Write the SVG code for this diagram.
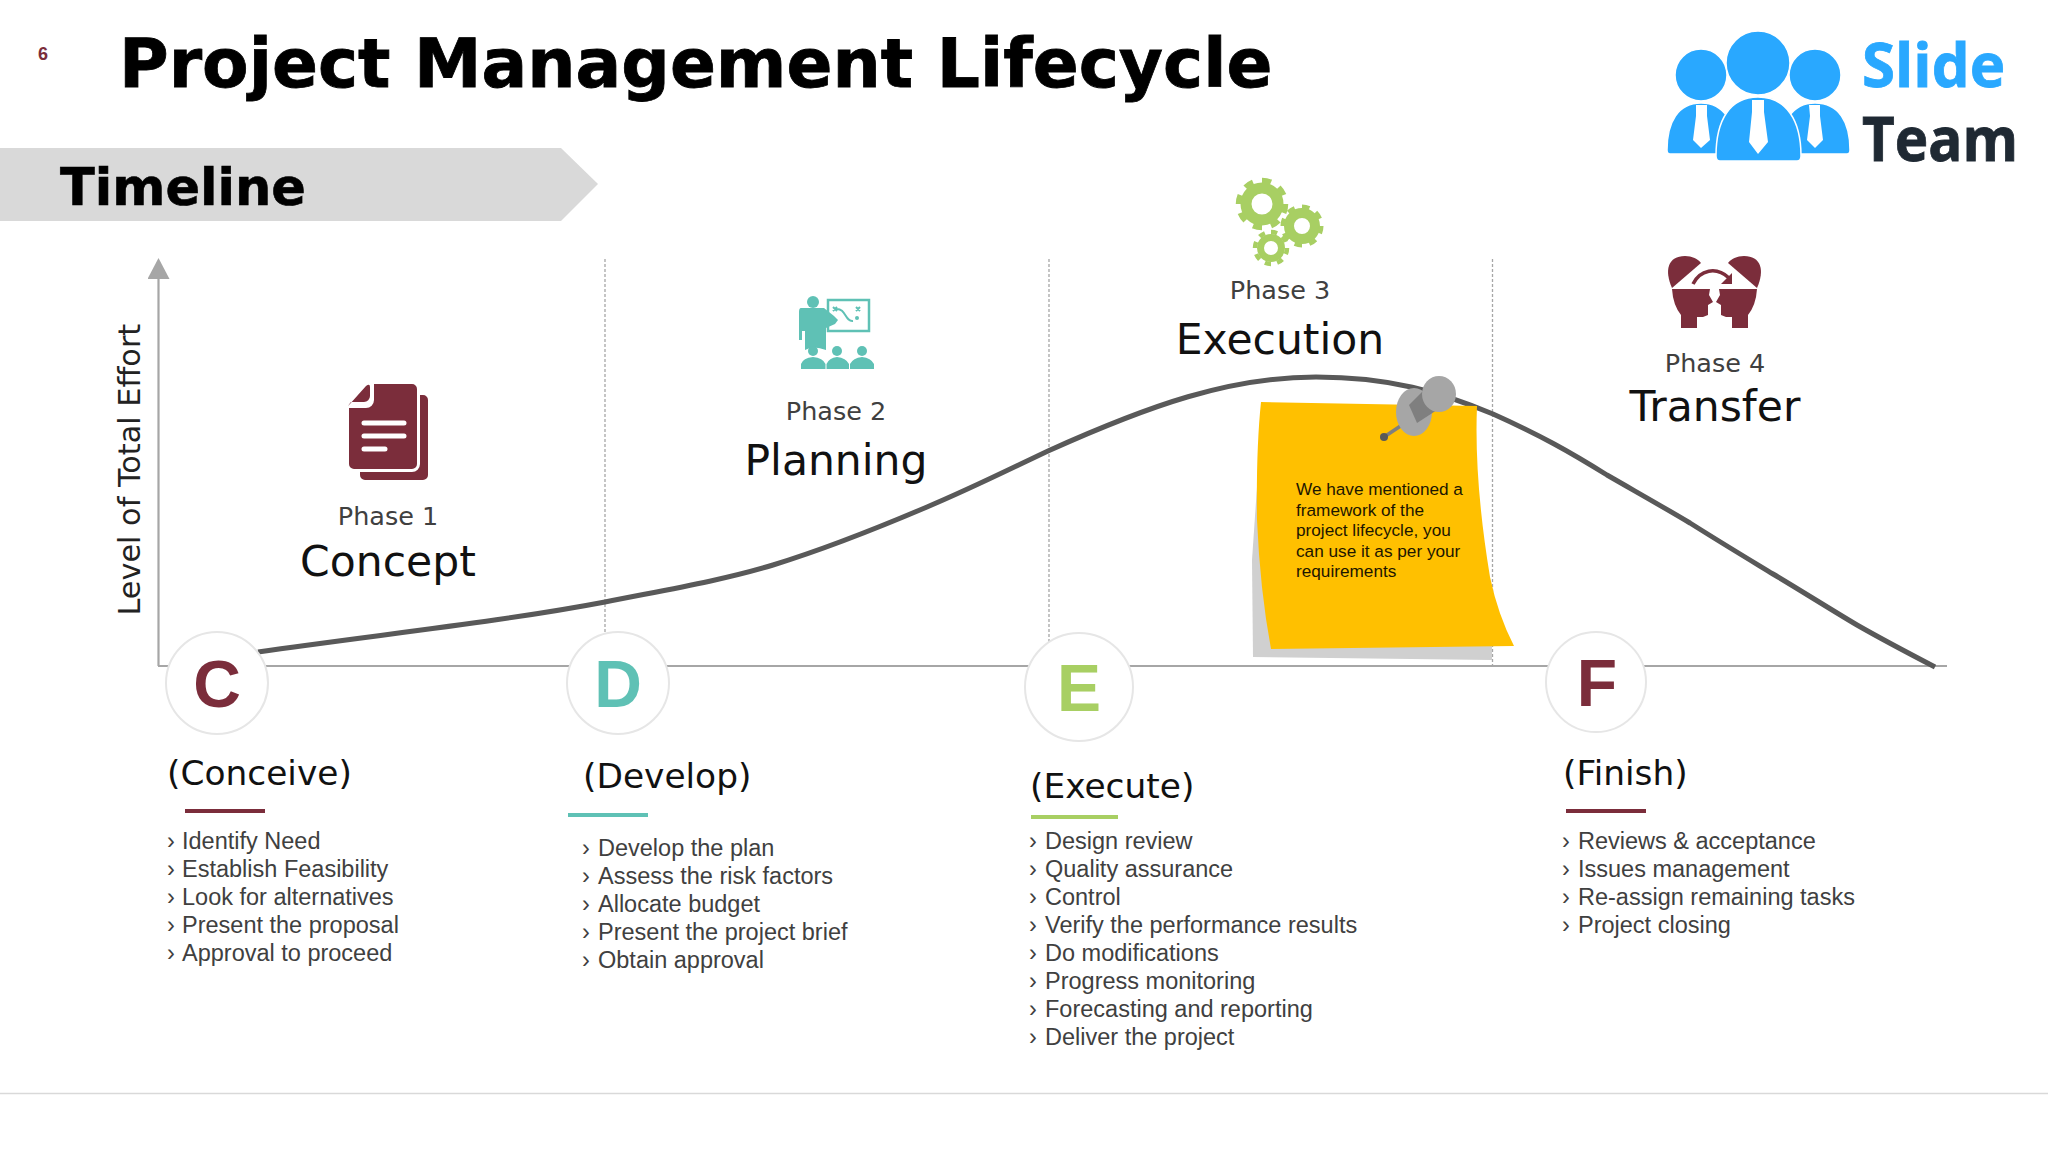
<svg xmlns="http://www.w3.org/2000/svg" width="2048" height="1152" viewBox="0 0 2048 1152">
<defs>
<marker id="arrow" viewBox="0 0 22 22" refX="11" refY="20" markerWidth="22" markerHeight="22" markerUnits="userSpaceOnUse" orient="0"><path d="M11 0L22 21H0Z" fill="#a6a6a6"/></marker>
</defs>
<style>
.d{font-family:"DejaVu Sans",sans-serif}
.l{font-family:"Liberation Sans",Arial,sans-serif}
.ph{font-size:25.500px;fill:#404040;text-anchor:middle}
.big{font-size:42.500px;fill:#111;text-anchor:middle}
.sub{font-size:34.400px;fill:#111}
.li{font-size:23.500px;fill:#404040}
.let{font-size:66px;font-weight:700;text-anchor:middle}
.note{font-size:17.200px;fill:#1c1600}
.dash{stroke:#a6a6a6;stroke-width:1.3;stroke-dasharray:3 2;fill:none}
.ax{stroke:#a6a6a6;stroke-width:2.2;fill:none}
.disc{fill:#fff;stroke:#e6e6e6;stroke-width:2}
.m{fill:#7b2d3b}.t{fill:#5fc1b5}.g{fill:#a8cf63}
.w{stroke:#fff;stroke-width:5;stroke-linecap:round;fill:none}
</style>
<rect width="2048" height="1152" fill="#fff"/>
<g id="header">
<text x="38" y="60" class="l m" font-size="18" font-weight="700">6</text>
<text x="119" y="87" class="d" font-size="67.800" font-weight="700" fill="#000" stroke="#000" stroke-width="0.800">Project Management Lifecycle</text>
<path d="M0 148H561L598 184L561 221H0Z" fill="#d9d9d9"/>
<text x="60" y="205" class="d" font-size="51" font-weight="700" fill="#000" stroke="#000" stroke-width="0.600">Timeline</text>
</g>
<g id="logo">
<g fill="#29a8ff" stroke="#fff" stroke-width="1.5">
<circle cx="1701" cy="75" r="26"/><circle cx="1815" cy="75" r="26"/><circle cx="1758" cy="63" r="32"/>
<path d="M1667 150C1667 122 1678 103 1701 103C1724 103 1736 122 1736 154H1670Q1667 154 1667 150Z"/>
<path d="M1850 150C1850 122 1839 103 1815 103C1792 103 1780 122 1780 154H1847Q1850 154 1850 150Z"/>
<path d="M1716 156C1716 120 1730 97 1758 97C1786 97 1801 120 1801 156Q1801 161 1797 161H1720Q1716 161 1716 156Z"/>
</g>
<path d="M1696 105H1707V116L1710 140L1701 148L1693 140L1696 116Z M1809 105H1820V116L1823 140L1815 148L1807 140L1810 116Z M1752 100H1764V112L1768 142L1758 154L1749 142L1752 112Z" fill="#fff"/>
<text x="1862" y="87" font-family="'Open Sans',sans-serif" font-weight="700" font-size="60" fill="#29a8ff" stroke="#29a8ff" stroke-width="0.800">Slide</text>
<text x="1862" y="161" font-family="'Open Sans',sans-serif" font-weight="700" font-size="60" fill="#1f2933" stroke="#1f2933" stroke-width="0.800" textLength="156" lengthAdjust="spacingAndGlyphs">Team</text>
</g>
<g id="connectors">
<line class="ax" x1="158.500" y1="666" x2="158.500" y2="278" marker-end="url(#arrow)"/>
<line class="ax" x1="158" y1="666" x2="1947" y2="666"/>
<line class="dash" x1="605" y1="259" x2="605" y2="666"/>
<line class="dash" x1="1049" y1="259" x2="1049" y2="666"/>
<line class="dash" x1="1492.500" y1="259" x2="1492.500" y2="667"/>
<path id="curve" d="M258 652C375 635 500 622 605 602C665 590 720 581 773 565C825 549 880 527 927 507C970 489 1010 469 1048 451C1150 405 1230 377 1316 377C1390 377 1440 392 1493 414C1540 435 1570 452 1607 475C1640 494 1665 508 1690 523C1720 542 1745 557 1773 574C1800 590 1830 609 1857 625C1885 641 1910 654 1935 667" fill="none" stroke="#595959" stroke-width="5"/>
</g>
<text class="d" font-size="30.300" fill="#222" transform="translate(140 615.500) rotate(-90)">Level of Total Effort</text>
<g id="note">
<path d="M1257 487L1252 560L1253 657L1492 660V640L1300 500Z" fill="#d0d0d0"/>
<path d="M1261 402L1477 406Q1474 480 1490 577Q1498 615 1514 646L1271 649Q1260 590 1257 520Q1256 450 1261 402Z" fill="#ffc000"/>
<g id="pin">
<line x1="1384" y1="437" x2="1402" y2="425" stroke="#7f7f7f" stroke-width="3.500"/>
<circle cx="1384" cy="437" r="4" fill="#595959"/>
<ellipse cx="1414" cy="412" rx="18" ry="24" fill="#a6a6a6"/>
<path d="M1409 405L1424 390L1437 410L1417 423Z" fill="#7f7f7f"/>
<ellipse cx="1439" cy="394" rx="17" ry="18" fill="#a6a6a6"/>
</g>
<text class="l note"><tspan x="1296" y="495">We have mentioned a</tspan><tspan x="1296" y="516">framework of the</tspan><tspan x="1296" y="536">project lifecycle, you</tspan><tspan x="1296" y="557">can use it as per your</tspan><tspan x="1296" y="577">requirements</tspan></text>
</g>
<g id="phase1">
<path class="m" d="M374 384H412a5 5 0 0 1 5 5V464a5 5 0 0 1-5 5H354a5 5 0 0 1-5-5V408H366a8 8 0 0 0 8-8Z"/>
<path class="m" d="M349 405L366 386Q370 383 370 387V396a6 6 0 0 1-6 6H351Q347 407 349 405Z"/>
<path class="m" d="M420 395H423a5 5 0 0 1 5 5V475a5 5 0 0 1-5 5H365a5 5 0 0 1-5-5V472H412a8 8 0 0 0 8-8Z"/>
<path class="w" d="M364 423H404M364 436H404M364 449H385"/>
<text x="388" y="525" class="d ph">Phase 1</text>
<text x="388" y="576" class="d big">Concept</text>
</g>
<g id="phase2">
<circle class="t" cx="813" cy="302" r="6"/>
<path class="t" d="M801 308H824L834 316L838 320L835 324L826 328V350Q813 345 805 350V331L802 331V340H799V312Q799 308 801 308Z"/>
<rect x="828" y="300" width="41" height="31" fill="none" stroke="#5fc1b5" stroke-width="2.500"/>
<path d="M836 309C846 308 845 322 853 321M856 307l4 4m0-4l-4 4M833 307l4 4m0-4l-4 4" fill="none" stroke="#5fc1b5" stroke-width="2"/>
<circle class="t" cx="857" cy="318" r="2"/>
<circle class="t" cx="813" cy="351" r="5"/><circle class="t" cx="837" cy="351" r="5"/><circle class="t" cx="862" cy="351" r="5"/>
<path class="t" d="M801 369V364Q803 358 813 357Q823 358 825.500 364V369ZM826.500 369V364Q829 358 837 357Q846 358 849 364V369ZM850 369V364Q853 358 862 357Q871 358 874 364V369Z"/>
<text x="836" y="420" class="d ph">Phase 2</text>
<text x="836" y="475" class="d big">Planning</text>
</g>
<g id="phase3">
<g fill="none" stroke="#a8cf63">
<circle cx="1262" cy="204" r="16" stroke-width="11"/>
<circle cx="1262" cy="204" r="23.500" stroke-width="5.500" pathLength="16" stroke-dasharray="1 1"/>
<circle cx="1302" cy="226" r="13" stroke-width="10"/>
<circle cx="1302" cy="226" r="19" stroke-width="5" pathLength="16" stroke-dasharray="1 1"/>
<circle cx="1271" cy="248" r="10.500" stroke-width="7"/>
<circle cx="1271" cy="248" r="16" stroke-width="4.500" pathLength="16" stroke-dasharray="1 1"/>
</g>
<text x="1280" y="299" class="d ph">Phase 3</text>
<text x="1280" y="354" class="d big">Execution</text>
</g>
<g id="phase4">
<path class="m" d="M1672 288C1664 270 1668 256 1685 256C1692 256 1698 259 1701 263Z"/>
<path class="m" d="M1757 288C1765 270 1761 256 1744 256C1737 256 1731 259 1728 263Z"/>
<path class="m" d="M1672 289H1710L1709 295L1713 302L1708 305V315L1703 317H1697V328H1681V315Q1673 305 1672 289Z"/>
<path class="m" d="M1757 289H1719L1720 295L1716 302L1721 305V315L1726 317H1732V328H1748V315Q1756 305 1757 289Z"/>
<path d="M1693 284C1700 270 1716 266 1729 278" fill="none" stroke="#7b2d3b" stroke-width="3.500"/>
<path class="m" d="M1732 273V284H1721Z"/>
<text x="1715" y="372" class="d ph">Phase 4</text>
<text x="1715" y="421" class="d big">Transfer</text>
</g>
<g id="conceive">
<circle class="disc" cx="217" cy="683" r="51"/>
<text x="217" y="707" class="l let m">C</text>
<text x="167" y="785" class="d sub">(Conceive)</text>
<rect class="m" x="185" y="809" width="80" height="4"/>
<text class="l li"><tspan x="167" y="849">›</tspan><tspan x="182" y="849">Identify Need</tspan><tspan x="167" y="877">›</tspan><tspan x="182" y="877">Establish Feasibility</tspan><tspan x="167" y="905">›</tspan><tspan x="182" y="905">Look for alternatives</tspan><tspan x="167" y="933">›</tspan><tspan x="182" y="933">Present the proposal</tspan><tspan x="167" y="961">›</tspan><tspan x="182" y="961">Approval to proceed</tspan></text>
</g>
<g id="develop">
<circle class="disc" cx="618" cy="683" r="51"/>
<text x="618" y="707" class="l let t">D</text>
<text x="583" y="788" class="d sub">(Develop)</text>
<rect class="t" x="568" y="813" width="80" height="4"/>
<text class="l li"><tspan x="582" y="856">›</tspan><tspan x="598" y="856">Develop the plan</tspan><tspan x="582" y="884">›</tspan><tspan x="598" y="884">Assess the risk factors</tspan><tspan x="582" y="912">›</tspan><tspan x="598" y="912">Allocate budget</tspan><tspan x="582" y="940">›</tspan><tspan x="598" y="940">Present the project brief</tspan><tspan x="582" y="968">›</tspan><tspan x="598" y="968">Obtain approval</tspan></text>
</g>
<g id="execute">
<circle class="disc" cx="1079" cy="687" r="54"/>
<text x="1079" y="711" class="l let g">E</text>
<text x="1030" y="798" class="d sub">(Execute)</text>
<rect class="g" x="1031" y="815" width="87" height="4"/>
<text class="l li"><tspan x="1029" y="849">›</tspan><tspan x="1045" y="849">Design review</tspan><tspan x="1029" y="877">›</tspan><tspan x="1045" y="877">Quality assurance</tspan><tspan x="1029" y="905">›</tspan><tspan x="1045" y="905">Control</tspan><tspan x="1029" y="933">›</tspan><tspan x="1045" y="933">Verify the performance results</tspan><tspan x="1029" y="961">›</tspan><tspan x="1045" y="961">Do modifications</tspan><tspan x="1029" y="989">›</tspan><tspan x="1045" y="989">Progress monitoring</tspan><tspan x="1029" y="1017">›</tspan><tspan x="1045" y="1017">Forecasting and reporting</tspan><tspan x="1029" y="1045">›</tspan><tspan x="1045" y="1045">Deliver the project</tspan></text>
</g>
<g id="finish">
<circle class="disc" cx="1596" cy="682" r="50"/>
<text x="1597" y="706" class="l let m">F</text>
<text x="1563" y="785" class="d sub">(Finish)</text>
<rect class="m" x="1566" y="809" width="80" height="4"/>
<text class="l li"><tspan x="1562" y="849">›</tspan><tspan x="1578" y="849">Reviews &amp; acceptance</tspan><tspan x="1562" y="877">›</tspan><tspan x="1578" y="877">Issues management</tspan><tspan x="1562" y="905">›</tspan><tspan x="1578" y="905">Re-assign remaining tasks</tspan><tspan x="1562" y="933">›</tspan><tspan x="1578" y="933">Project closing</tspan></text>
</g>
<line x1="0" y1="1093.500" x2="2048" y2="1093.500" stroke="#d9d9d9" stroke-width="1.500"/>
</svg>
